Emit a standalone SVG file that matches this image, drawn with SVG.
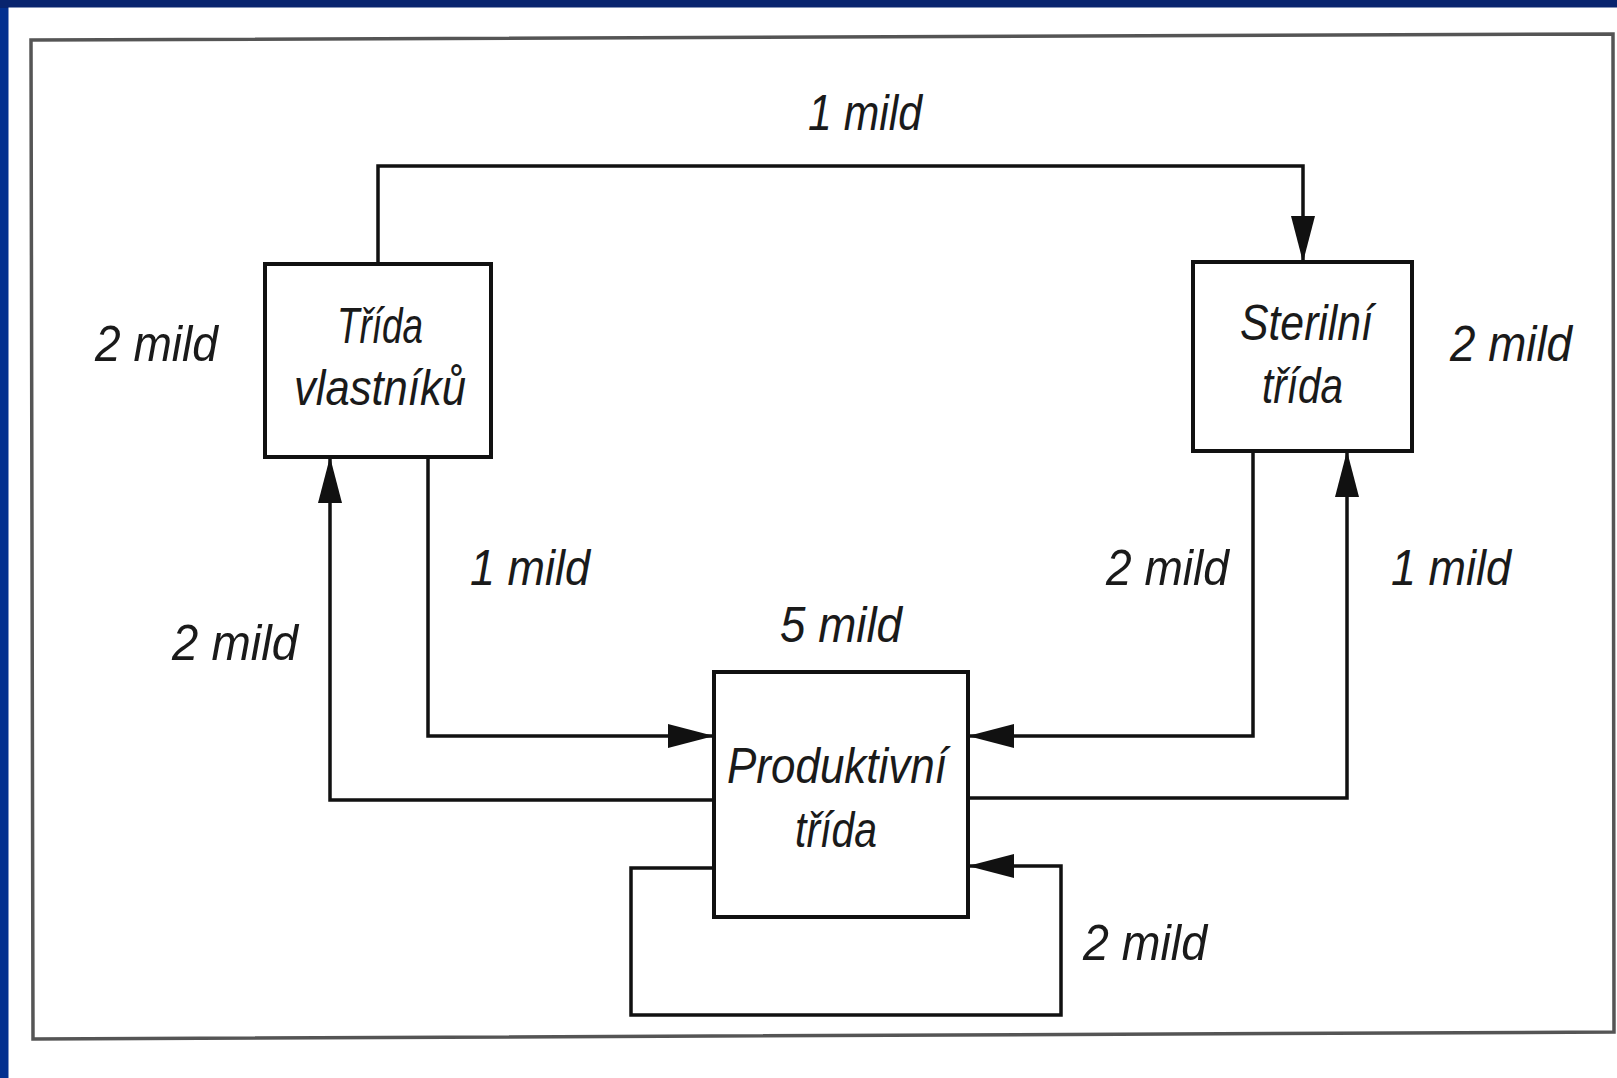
<svg xmlns="http://www.w3.org/2000/svg" width="1617" height="1078" viewBox="0 0 1617 1078">
<style>
.box{fill:#fff;stroke:#111;stroke-width:4}
.con{fill:none;stroke:#111;stroke-width:3.5;stroke-linejoin:miter}
.t{font-family:"Liberation Sans","DejaVu Sans",sans-serif;font-style:italic;font-size:50px;fill:#1a1a1a}
</style>
<defs>
<marker id="ah" viewBox="0 0 46 24" refX="46" refY="12" markerWidth="46" markerHeight="24" markerUnits="userSpaceOnUse" orient="auto">
<path d="M0,0 L46,12 L0,24 Z" fill="#111"/>
</marker>
</defs>
<rect x="0" y="0" width="1617" height="1078" fill="#03308f"/>
<rect x="0" y="0" width="1617" height="8" fill="#08246e"/>
<rect x="8.5" y="7.5" width="1609" height="1071" fill="#fff"/>
<polygon points="31,40 1613,34 1614,1032 33,1039" fill="none" stroke="#555" stroke-width="3.5"/>

<g id="connectors">
<path class="con" d="M378,264 V166 H1303 V262" marker-end="url(#ah)"/>
<path class="con" d="M428,457 V736 H714" marker-end="url(#ah)"/>
<path class="con" d="M714,800 H330 V457" marker-end="url(#ah)"/>
<path class="con" d="M1253,451 V736 H968" marker-end="url(#ah)"/>
<path class="con" d="M968,798 H1347 V451" marker-end="url(#ah)"/>
<path class="con" d="M714,868 H631 V1015 H1061 V866 H968" marker-end="url(#ah)"/>
</g>

<g id="node-vlastniku">
<rect class="box" x="265" y="264" width="226" height="193"/>
<text class="t" x="337" y="343" textLength="86" lengthAdjust="spacingAndGlyphs">Třída</text>
<text class="t" x="294" y="405" textLength="172" lengthAdjust="spacingAndGlyphs">vlastníků</text>
</g>

<g id="node-sterilni">
<rect class="box" x="1193" y="262" width="219" height="189"/>
<text class="t" x="1240" y="340" textLength="133" lengthAdjust="spacingAndGlyphs">Sterilní</text>
<text class="t" x="1262" y="403" textLength="81" lengthAdjust="spacingAndGlyphs">třída</text>
</g>

<g id="node-produktivni">
<rect class="box" x="714" y="672" width="254" height="245"/>
<text class="t" x="727" y="783" textLength="220" lengthAdjust="spacingAndGlyphs">Produktivní</text>
<text class="t" x="795" y="847" textLength="82" lengthAdjust="spacingAndGlyphs">třída</text>
</g>

<g id="labels">
<text class="t" x="808" y="130" textLength="114" lengthAdjust="spacingAndGlyphs">1 mild</text>
<text class="t" x="95" y="361" textLength="123" lengthAdjust="spacingAndGlyphs">2 mild</text>
<text class="t" x="1450" y="361" textLength="122" lengthAdjust="spacingAndGlyphs">2 mild</text>
<text class="t" x="470" y="585" textLength="120" lengthAdjust="spacingAndGlyphs">1 mild</text>
<text class="t" x="172" y="660" textLength="126" lengthAdjust="spacingAndGlyphs">2 mild</text>
<text class="t" x="780" y="642" textLength="122" lengthAdjust="spacingAndGlyphs">5 mild</text>
<text class="t" x="1106" y="585" textLength="123" lengthAdjust="spacingAndGlyphs">2 mild</text>
<text class="t" x="1391" y="585" textLength="120" lengthAdjust="spacingAndGlyphs">1 mild</text>
<text class="t" x="1083" y="960" textLength="124" lengthAdjust="spacingAndGlyphs">2 mild</text>
</g>
</svg>
